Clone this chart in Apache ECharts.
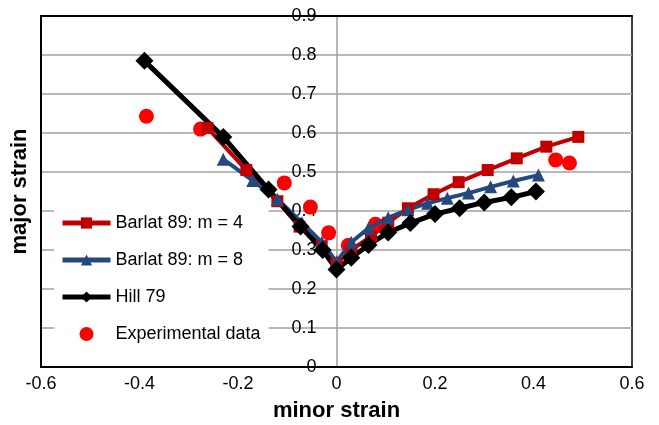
<!DOCTYPE html>
<html>
<head>
<meta charset="utf-8">
<script src="https://cdn.jsdelivr.net/npm/echarts@6/dist/echarts.min.js"></script>
<style>
  html, body { margin: 0; padding: 0; background: #fff; }
  #chart { width: 659px; height: 425px; }
</style>
</head>
<body>
<div id="chart"></div>
<script>
// Forming limit curves: minor strain (x) vs major strain (y)
const xTicks = [-0.6, -0.4, -0.2, 0, 0.2, 0.4, 0.6];
const yTicks = [0, 0.1, 0.2, 0.3, 0.4, 0.5, 0.6, 0.7, 0.8, 0.9];

const barlat4X = [-0.262, -0.183, -0.12, -0.075, -0.03, 0, 0.03, 0.07, 0.105, 0.145, 0.197, 0.248, 0.307, 0.366, 0.426, 0.491];
const barlat4Y = [0.613, 0.505, 0.425, 0.36, 0.31, 0.265, 0.3, 0.335, 0.37, 0.407, 0.443, 0.474, 0.505, 0.535, 0.565, 0.59];

const barlat8X = [-0.23, -0.17, -0.12, -0.07, -0.03, 0, 0.03, 0.065, 0.105, 0.145, 0.185, 0.225, 0.268, 0.313, 0.359, 0.41];
const barlat8Y = [0.533, 0.478, 0.43, 0.37, 0.32, 0.27, 0.32, 0.356, 0.383, 0.403, 0.42, 0.433, 0.446, 0.462, 0.477, 0.492];

const hillX = [-0.39, -0.23, -0.138, -0.073, -0.028, 0, 0.03, 0.065, 0.105, 0.15, 0.2, 0.25, 0.3, 0.355, 0.405];
const hillY = [0.785, 0.59, 0.455, 0.36, 0.3, 0.25, 0.28, 0.313, 0.345, 0.369, 0.392, 0.407, 0.422, 0.435, 0.45];

const expX = [-0.386, -0.276, -0.106, -0.053, -0.016, 0.024, 0.079, 0.445, 0.473];
const expY = [0.643, 0.61, 0.472, 0.41, 0.344, 0.312, 0.366, 0.531, 0.523];

const names = ['Barlat 89: m = 4', 'Barlat 89: m = 8', 'Hill 79', 'Experimental data'];

const zip = (xs, ys) => xs.map((x, i) => [x, ys[i]]);
const FONT = '"Liberation Sans", Arial, Helvetica, sans-serif';

// Plot box (px) and where x = 0 falls inside it, so the labelled
// vertical axis can sit on the zero line.
const W = 659, GL = 41, GR = 27;
const plotW = W - GL - GR;
const xMin = xTicks[0], xMax = xTicks[xTicks.length - 1];
const zeroOffset = -plotW * (0 - xMin) / (xMax - xMin);

const chart = echarts.init(document.getElementById('chart'), null, { renderer: 'canvas' });

chart.setOption({
  animation: false,
  textStyle: { fontFamily: FONT, color: '#000' },
  grid: {
    left: GL, right: GR, top: 16, bottom: 58,
    containLabel: false, outerBoundsMode: 'none',
    show: true, borderColor: '#000', borderWidth: 1.5, backgroundColor: '#fff'
  },
  legend: {
    orient: 'vertical',
    left: 54, top: 206,
    padding: [8, 8, 8, 6],
    backgroundColor: '#fff',
    itemWidth: 48, itemHeight: 14, itemGap: 19,
    lineStyle: { width: 5 },
    textStyle: { fontSize: 18, color: '#000', fontFamily: FONT },
    data: names
  },
  xAxis: [{
    type: 'value',
    min: xMin, max: xMax, interval: 0.2,
    z: 5,
    axisLine: { show: true, onZero: false, lineStyle: { color: '#000', width: 2 } },
    axisTick: { show: false },
    splitLine: { show: false },
    axisLabel: { fontSize: 18, color: '#000', margin: 8,
      formatter: v => String(Math.round(v * 10) / 10) },
    name: 'minor strain', nameLocation: 'middle', nameGap: 33,
    nameTextStyle: { fontSize: 22, fontWeight: 'bold', color: '#000', fontFamily: FONT }
  }, {
    type: 'value', position: 'top',
    min: xMin, max: xMax, interval: 0.2,
    z: 5,
    axisLine: { show: true, onZero: false, lineStyle: { color: '#000', width: 2 } },
    axisTick: { show: false }, axisLabel: { show: false }, splitLine: { show: false }
  }],
  yAxis: [{
    type: 'value', position: 'left', offset: zeroOffset,
    min: yTicks[0], max: yTicks[yTicks.length - 1], interval: 0.1,
    axisLine: { show: true, onZero: false, lineStyle: { color: '#a0a0a0', width: 1.5 } },
    axisTick: { show: false },
    splitLine: { show: true, lineStyle: { color: '#a0a0a0', width: 1.5 } },
    axisLabel: { fontSize: 18, color: '#000', margin: 20,
      formatter: v => String(Math.round(v * 10) / 10) }
  }, {
    type: 'value', position: 'left',
    min: yTicks[0], max: yTicks[yTicks.length - 1], interval: 0.1,
    z: 5,
    axisLine: { show: true, onZero: false, lineStyle: { color: '#000', width: 2 } },
    axisTick: { show: false }, axisLabel: { show: false }, splitLine: { show: false },
    name: 'major strain', nameLocation: 'middle', nameGap: 10,
    nameTextStyle: { fontSize: 22, fontWeight: 'bold', color: '#000', fontFamily: FONT }
  }],
  series: [
    {
      name: names[0], type: 'line', data: zip(barlat4X, barlat4Y),
      symbol: 'rect', symbolSize: 12, showAllSymbol: true,
      lineStyle: { color: '#c00000', width: 4 },
      itemStyle: { color: '#c00000' }
    },
    {
      name: names[1], type: 'line', data: zip(barlat8X, barlat8Y),
      symbol: 'triangle', symbolSize: 13, showAllSymbol: true,
      lineStyle: { color: '#24497f', width: 4 },
      itemStyle: { color: '#24497f' }
    },
    {
      name: names[2], type: 'line', data: zip(hillX, hillY),
      symbol: 'diamond', symbolSize: 18, showAllSymbol: true,
      lineStyle: { color: '#000', width: 5 },
      itemStyle: { color: '#000' }
    },
    {
      name: names[3], type: 'scatter', data: zip(expX, expY),
      symbol: 'circle', symbolSize: 15,
      itemStyle: { color: '#ff0000', opacity: 1 }
    }
  ]
});
</script>
</body>
</html>
